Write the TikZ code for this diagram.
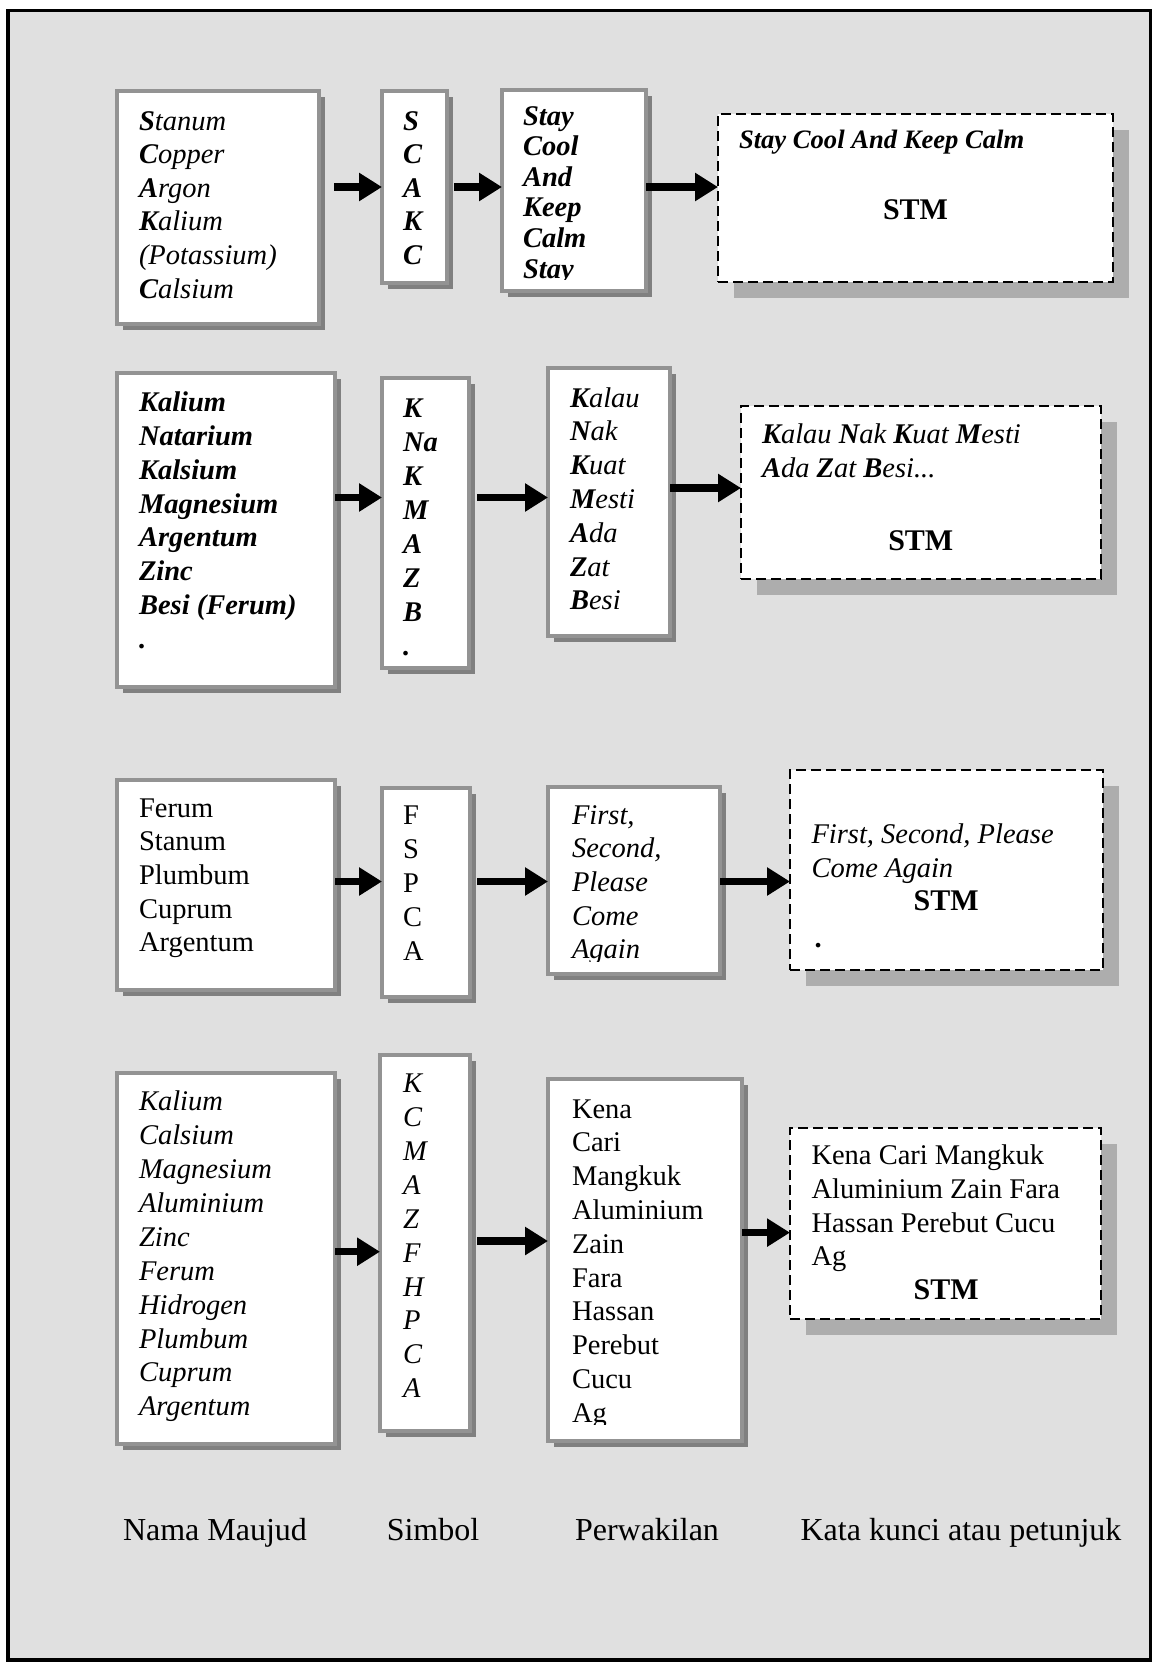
\documentclass[tikz,border=0pt]{standalone}
\usepackage{fontspec}
\setmainfont{Liberation Serif}
\usetikzlibrary{arrows.meta,shadows,calc}

\definecolor{bggray}{HTML}{E0E0E0}
\definecolor{boxgray}{HTML}{939393}
\definecolor{shadowdark}{HTML}{808080}
\definecolor{shadowlight}{HTML}{ADADAD}

% lines of text with a fixed baseline distance; the first baseline is the node's base
\newcommand\stack[2]{\vtop{\baselineskip=#1\lineskiplimit=-1000pt\lineskip=0pt\halign{##\hfil\cr#2\crcr}}}
\newcommand\B[1]{\textbf{#1}}
\newcommand\bodyfont{\fontsize{28.5}{34}\selectfont}

\tikzset{
  sbox/.style={draw=boxgray, line width=4pt, fill=white, inner sep=0pt, outer sep=0pt,
    anchor=north west,
    drop shadow={shadow xshift=6pt, shadow yshift=-6pt, opacity=1, fill=shadowdark}},
  dbox/.style={draw=black, line width=2.7pt, dash pattern=on 10pt off 5pt, fill=white,
    inner sep=0pt, outer sep=0pt, anchor=north west,
    drop shadow={shadow xshift=16pt, shadow yshift=-16pt, opacity=1, fill=shadowlight}},
  txt/.style={inner sep=0pt, outer sep=0pt, anchor=base west, font=\bodyfont},
  stm/.style={inner sep=0pt, anchor=base, font=\fontsize{30}{36}\selectfont\bfseries},
  lbl/.style={inner sep=0pt, anchor=base, font=\fontsize{32}{36}\selectfont},
  arr/.style={line width=7.5pt, -{Triangle[length=23pt,width=27pt]}},
}

\begin{document}
\begin{tikzpicture}[x=1pt,y=-1pt]
\useasboundingbox (0,0) rectangle (1152,1663);
\fill[white] (0,0) rectangle (1152,1663);
\filldraw[fill=bggray, draw=black, line width=3.5pt] (8,10.5) rectangle (1150.5,1660);

% ---------------- row 1 ----------------
\node[sbox, minimum width=202pt, minimum height=233pt] (a1) at (117,91) {};
\node[sbox, minimum width=65pt,  minimum height=192pt] (a2) at (382,91) {};
\node[sbox, minimum width=144pt, minimum height=201pt] (a3) at (502,90) {};
\node[dbox, minimum width=395pt, minimum height=168pt] (a4) at (718,114) {};

\node[txt, font=\bodyfont\itshape] (a1t) at (139,130)
  {\stack{33.6pt}{\B{S}tanum\cr \B{C}opper\cr \B{A}rgon\cr \B{K}alium\cr (Potassium)\cr \B{C}alsium}};
\node[txt, font=\bodyfont\bfseries\itshape] (a2t) at (403,130)
  {\stack{33.6pt}{S\cr C\cr A\cr K\cr C}};
\begin{scope}
  \clip (502,90) rectangle (646,279);
  \node[txt, font=\bodyfont\bfseries\itshape] (a3t) at (523,125)
    {\stack{30.6pt}{Stay\cr Cool\cr And\cr Keep\cr Calm\cr Stay}};
\end{scope}
\node[txt, font=\fontsize{26.6}{32}\selectfont\bfseries\itshape] (a4t) at (739,148.5) {Stay Cool And Keep Calm};
\node[stm] (a4s) at (915.5,219.6) {STM};

\coordinate (r1) at (0,187);
\draw[arr] ($(a1.east |- r1)+(15,0)$) -- (a2.west |- r1);
\draw[arr] ($(a2.east |- r1)+(7,0)$) -- (a3.west |- r1);
\draw[arr] (a3.east |- r1) -- (a4.west |- r1);

% ---------------- row 2 ----------------
\node[sbox, minimum width=218pt, minimum height=314pt] (b1) at (117,373) {};
\node[sbox, minimum width=87pt,  minimum height=290pt] (b2) at (382,378) {};
\node[sbox, minimum width=122pt, minimum height=268pt] (b3) at (548,368) {};
\node[dbox, minimum width=360pt, minimum height=173pt] (b4) at (741,406) {};

\node[txt, font=\bodyfont\bfseries\itshape] (b1t) at (139,411.6)
  {\stack{33.8pt}{Kalium\cr Natarium\cr Kalsium\cr Magnesium\cr Argentum\cr Zinc\cr Besi (Ferum)\cr .}};
\node[txt, font=\bodyfont\bfseries\itshape] (b2t) at (403,417)
  {\stack{34pt}{K\cr Na\cr K\cr M\cr A\cr Z\cr B\cr .}};
\node[txt, font=\bodyfont\itshape] (b3t) at (570,407)
  {\stack{33.8pt}{\B{K}alau\cr \B{N}ak\cr \B{K}uat\cr \B{M}esti\cr \B{A}da\cr \B{Z}at\cr \B{B}esi}};
\node[txt, font=\bodyfont\itshape] (b4t) at (762,443.4)
  {\stack{34pt}{\B{K}alau \B{N}ak \B{K}uat \B{M}esti\cr \B{A}da \B{Z}at \B{B}esi...}};
\node[stm] (b4s) at (920.8,550.5) {STM};

\coordinate (r2a) at (0,497.5);
\coordinate (r2b) at (0,488);
\draw[arr] (b1.east |- r2a) -- (b2.west |- r2a);
\draw[arr] ($(b2.east |- r2a)+(8,0)$) -- (b3.west |- r2a);
\draw[arr] (b3.east |- r2b) -- (b4.west |- r2b);

% ---------------- row 3 ----------------
\node[sbox, minimum width=218pt, minimum height=210pt] (c1) at (117,780) {};
\node[sbox, minimum width=88pt,  minimum height=209pt] (c2) at (382,788) {};
\node[sbox, minimum width=172pt, minimum height=187pt] (c3) at (548,787) {};
\node[dbox, minimum width=313pt, minimum height=200pt] (c4) at (790,770) {};

\node[txt] (c1t) at (139,817)
  {\stack{33.7pt}{Ferum\cr Stanum\cr Plumbum\cr Cuprum\cr Argentum}};
\node[txt] (c2t) at (403,824)
  {\stack{34pt}{F\cr S\cr P\cr C\cr A}};
\begin{scope}
  \clip (548,787) rectangle (720,961);
  \node[txt, font=\bodyfont\itshape] (c3t) at (572,824)
    {\stack{33.7pt}{First,\cr Second,\cr Please\cr Come\cr Again}};
\end{scope}
\node[txt, font=\bodyfont\itshape] (c4t) at (811.5,843.4)
  {\stack{34pt}{First, Second, Please\cr Come Again}};
\node[stm] (c4s) at (946.2,910.2) {STM};
\node[txt, font=\bodyfont\bfseries] (c4d) at (814.7,947) {.};

\coordinate (r3) at (0,881.5);
\draw[arr] (c1.east |- r3) -- (c2.west |- r3);
\draw[arr] ($(c2.east |- r3)+(7,0)$) -- (c3.west |- r3);
\draw[arr] (c3.east |- r3) -- (c4.west |- r3);

% ---------------- row 4 ----------------
\node[sbox, minimum width=218pt, minimum height=371pt] (d1) at (117,1073) {};
\node[sbox, minimum width=90pt,  minimum height=376pt] (d2) at (380,1055) {};
\node[sbox, minimum width=194pt, minimum height=362pt] (d3) at (548,1079) {};
\node[dbox, minimum width=311pt, minimum height=191pt] (d4) at (790,1128) {};

\node[txt, font=\bodyfont\itshape] (d1t) at (139,1110.7)
  {\stack{33.9pt}{Kalium\cr Calsium\cr Magnesium\cr Aluminium\cr Zinc\cr Ferum\cr Hidrogen\cr Plumbum\cr Cuprum\cr Argentum}};
\node[txt, font=\bodyfont\itshape] (d2t) at (403,1092.6)
  {\stack{33.9pt}{K\cr C\cr M\cr A\cr Z\cr F\cr H\cr P\cr C\cr A}};
\begin{scope}
  \clip (548,1079) rectangle (742,1424);
  \node[txt] (d3t) at (572,1118)
    {\stack{33.8pt}{Kena\cr Cari\cr Mangkuk\cr Aluminium\cr Zain\cr Fara\cr Hassan\cr Perebut\cr Cucu\cr Ag}};
\end{scope}
\node[txt] (d4t) at (811.5,1164.8)
  {\stack{33.6pt}{Kena Cari Mangkuk\cr Aluminium Zain Fara\cr Hassan Perebut Cucu\cr Ag}};
\node[stm] (d4s) at (946.2,1299.5) {STM};

\coordinate (r4a) at (0,1251.7);
\coordinate (r4b) at (0,1241);
\coordinate (r4c) at (0,1232.6);
\draw[arr] (d1.east |- r4a) -- (d2.west |- r4a);
\draw[arr] ($(d2.east |- r4b)+(7,0)$) -- (d3.west |- r4b);
\draw[arr] (d3.east |- r4c) -- (d4.west |- r4c);

% ---------------- column captions ----------------
\node[lbl] (l1) at (215,1540) {Nama Maujud};
\node[lbl] (l2) at (433,1540) {Simbol};
\node[lbl] (l3) at (647,1540) {Perwakilan};
\node[lbl] (l4) at (961,1540) {Kata kunci atau petunjuk};
\end{tikzpicture}
\end{document}
